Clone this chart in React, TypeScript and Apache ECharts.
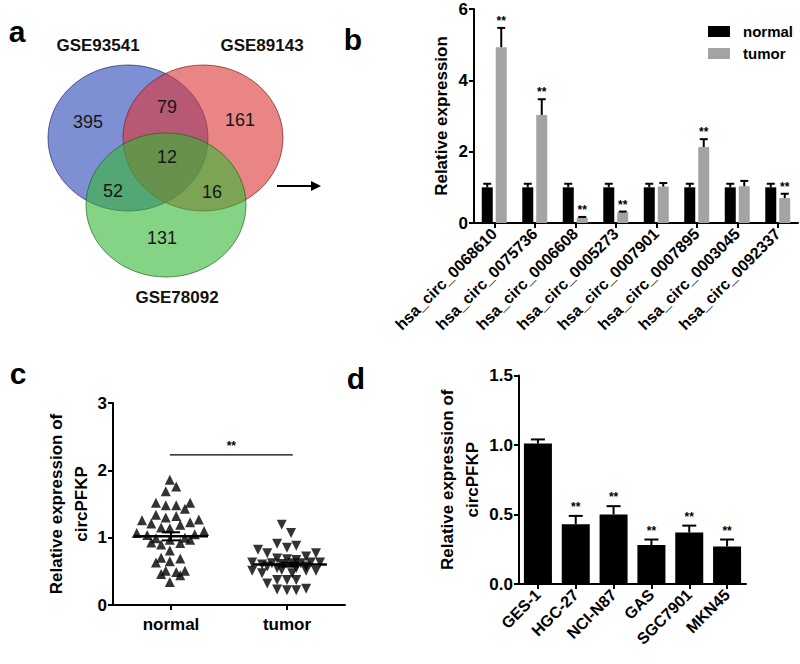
import React, { useEffect, useRef } from "react";
import * as echarts from "echarts";

const FONT = "'Liberation Sans', Arial, Helvetica, sans-serif";

// ---------- Panel a (Venn) ----------
const vennSets = ["GSE93541", "GSE89143", "GSE78092"];
// regions: A only, B only, C only, A∩B, A∩C, B∩C, A∩B∩C
const vennCounts = [395, 161, 131, 79, 52, 16, 12];

// ---------- Panel b ----------
const bCategories = [
  "hsa_circ_0068610",
  "hsa_circ_0075736",
  "hsa_circ_0006608",
  "hsa_circ_0005273",
  "hsa_circ_0007901",
  "hsa_circ_0007895",
  "hsa_circ_0003045",
  "hsa_circ_0092337",
];
const bNormal = [1, 1, 1, 1, 1, 1, 1, 1];
const bNormalUpper = [1.1, 1.1, 1.1, 1.1, 1.1, 1.1, 1.1, 1.1];
const bTumor = [4.93, 3.03, 0.15, 0.3, 1.02, 2.13, 1.03, 0.7];
const bTumorUpper = [5.47, 3.47, 0.17, 0.32, 1.12, 2.35, 1.18, 0.82];
const bTumorSig = ["**", "**", "**", "**", "", "**", "", "**"];
const bYTicks = [0, 2, 4, 6];

// ---------- Panel c ----------
const cCategories = ["normal", "tumor"];
// [position on hidden jitter axis (normal centre 1, tumor centre 3), value]
const cNormalPoints = [
  [0.98, 1.86], [0.91, 1.69], [1.09, 1.76], [0.74, 1.52], [0.91, 1.48], [1.09, 1.48],
  [1.24, 1.43], [1.33, 1.52], [0.74, 1.34], [0.91, 1.3], [1.09, 1.32], [0.5, 1.26],
  [0.66, 1.21], [0.83, 1.15], [0.98, 1.14], [1.16, 1.19], [1.33, 1.23], [1.48, 1.27],
  [0.41, 1.07], [0.59, 1.04], [1.57, 1.1], [1.41, 1.05], [0.66, 0.93], [0.83, 0.9],
  [0.98, 0.97], [1.16, 0.92], [1.33, 0.97], [0.74, 0.99], [1.24, 1.0], [0.98, 0.81],
  [0.83, 0.7], [1.16, 0.69], [0.74, 0.63], [0.98, 0.65], [0.83, 0.46], [0.91, 0.51],
  [1.09, 0.49], [1.24, 0.51], [1.16, 0.44], [0.98, 0.34],
];
const cTumorPoints = [
  [2.91, 1.19], [3.07, 1.07], [2.5, 0.82], [2.66, 0.77], [2.83, 0.91], [3.0, 0.85],
  [3.16, 0.88], [3.33, 0.72], [3.5, 0.77], [2.83, 0.69], [3.0, 0.68], [3.16, 0.67],
  [2.4, 0.63], [2.57, 0.6], [2.74, 0.62], [2.91, 0.61], [3.09, 0.62], [3.24, 0.62],
  [3.41, 0.63], [3.57, 0.63], [2.4, 0.51], [2.57, 0.47], [2.91, 0.52], [3.09, 0.47],
  [3.33, 0.51], [3.5, 0.51], [2.66, 0.32], [2.83, 0.37], [3.0, 0.37], [3.16, 0.37],
  [2.83, 0.23], [3.0, 0.22], [3.16, 0.22], [3.33, 0.24], [2.66, 0.57], [3.33, 0.57],
  [2.83, 0.55], [3.16, 0.55],
];
const cMeans = [1.02, 0.6];
const cSem = [0.06, 0.03];
const cMeanPos = [1.0, 3.05];
// significance bracket: [from, to, height]
const cSigLine = [0.98, 3.1, 2.23];
const cSigText = "**";
const cYTicks = [0, 1, 2, 3];

// ---------- Panel d ----------
const dCategories = ["GES-1", "HGC-27", "NCI-N87", "GAS", "SGC7901", "MKN45"];
const dValues = [1.01, 0.43, 0.5, 0.28, 0.37, 0.27];
const dUpper = [1.04, 0.49, 0.56, 0.32, 0.42, 0.32];
const dSig = ["", "**", "**", "**", "**", "**"];
const dYTicks = [0, 0.5, 1.0, 1.5];

function errorBars(offset: number, capHalf: number, sig: string[], starGap: number) {
  return (params: any, api: any) => {
    const i = api.value(0);
    const m = api.value(1);
    const t = api.value(2);
    const p0 = api.coord([i, m]);
    const p1 = api.coord([i, t]);
    const x = p0[0] + offset;
    const children: any[] = [
      {
        type: "line",
        shape: { x1: x, y1: p0[1], x2: x, y2: p1[1] },
        style: { stroke: "#000", lineWidth: 2 },
      },
      {
        type: "line",
        shape: { x1: x - capHalf, y1: p1[1], x2: x + capHalf, y2: p1[1] },
        style: { stroke: "#000", lineWidth: 2 },
      },
    ];
    const s = sig[params.dataIndex];
    if (s) {
      children.push({
        type: "text",
        x: x,
        y: p1[1] - starGap,
        style: {
          text: s,
          align: "center",
          verticalAlign: "bottom",
          font: `bold 12px ${FONT}`,
          fill: "#000",
        },
      });
    }
    return { type: "group", children };
  };
}

const axisLineStyle = { show: true, lineStyle: { color: "#000", width: 2 } };
const axisTickStyle = { show: true, length: 5, lineStyle: { color: "#000", width: 2 } };

export default function App() {
  const ref = useRef<HTMLDivElement>(null);

  useEffect(() => {
    if (!ref.current) return;
    const chart = echarts.init(ref.current, null, { renderer: "svg" });

    // Venn layout
    const ellipses = [
      { cx: 128, cy: 138, rx: 80, ry: 73, fill: "rgba(42,68,183,0.6)", stroke: "rgba(30,40,110,0.7)" },
      { cx: 203, cy: 138, rx: 80, ry: 73, fill: "rgba(220,52,52,0.6)", stroke: "rgba(120,30,30,0.7)" },
      { cx: 166, cy: 205, rx: 80, ry: 72, fill: "rgba(52,183,52,0.6)", stroke: "rgba(30,100,30,0.7)" },
    ];
    const setLabelPos = [
      [98, 45],
      [262, 45],
      [177, 297],
    ];
    const countPos = [
      [88, 122],
      [240, 120],
      [162, 238],
      [167, 107],
      [113, 191],
      [212, 192],
      [167, 157],
    ];

    const graphics: any[] = [];
    ellipses.forEach((e) =>
      graphics.push({
        type: "ellipse",
        shape: { cx: e.cx, cy: e.cy, rx: e.rx, ry: e.ry },
        style: { fill: e.fill, stroke: e.stroke, lineWidth: 1 },
      })
    );
    vennSets.forEach((name, i) =>
      graphics.push({
        type: "text",
        x: setLabelPos[i][0],
        y: setLabelPos[i][1],
        style: {
          text: name,
          align: "center",
          verticalAlign: "middle",
          font: `bold 17px ${FONT}`,
          fill: "#111",
        },
      })
    );
    vennCounts.forEach((c, i) =>
      graphics.push({
        type: "text",
        x: countPos[i][0],
        y: countPos[i][1],
        style: {
          text: String(c),
          align: "center",
          verticalAlign: "middle",
          font: `18px ${FONT}`,
          fill: "#161616",
        },
      })
    );
    // arrow
    graphics.push({
      type: "line",
      shape: { x1: 277, y1: 186, x2: 314, y2: 186 },
      style: { stroke: "#000", lineWidth: 2 },
    });
    graphics.push({
      type: "polygon",
      shape: { points: [[321, 186], [311, 181], [311, 191]] },
      style: { fill: "#000" },
    });
    // panel letters
    const letters = [
      ["a", 17, 46],
      ["b", 353, 54],
      ["c", 18, 388],
      ["d", 356, 393],
    ];
    letters.forEach(([t, x, y]) =>
      graphics.push({
        type: "text",
        x: x as number,
        y: y as number,
        style: {
          text: t as string,
          align: "center",
          verticalAlign: "bottom",
          font: `bold 30px ${FONT}`,
          fill: "#000",
        },
      })
    );

    const labelStyle = { color: "#000", fontWeight: "bold" as const, fontFamily: FONT, fontSize: 17 };
    const nameStyle = { color: "#000", fontWeight: "bold" as const, fontFamily: FONT, fontSize: 17, lineHeight: 25 };

    const option: any = {
      animation: false,
      backgroundColor: "#fff",
      textStyle: { fontFamily: FONT },
      graphic: graphics,
      legend: {
        data: ["normal", "tumor"],
        orient: "vertical",
        left: 703,
        top: 19,
        itemWidth: 22,
        itemHeight: 11,
        itemGap: 7,
        icon: "rect",
        textStyle: { color: "#000", fontSize: 15, fontWeight: "bold", fontFamily: FONT, padding: [0, 0, 0, 8] },
      },
      grid: [
        { left: 474, top: 9, width: 324, height: 214 },
        { left: 113, top: 403, width: 232, height: 202 },
        { left: 519, top: 375.5, width: 227, height: 208.5 },
      ],
      xAxis: [
        {
          type: "category",
          gridIndex: 0,
          data: bCategories,
          axisLine: axisLineStyle,
          axisTick: { ...axisTickStyle, alignWithLabel: true },
          axisLabel: { ...labelStyle, fontSize: 16, rotate: 45, interval: 0, margin: 8 },
        },
        {
          type: "category",
          gridIndex: 1,
          data: cCategories,
          axisLine: axisLineStyle,
          axisTick: { ...axisTickStyle, alignWithLabel: true },
          axisLabel: { ...labelStyle, margin: 11 },
        },
        {
          type: "value",
          gridIndex: 1,
          min: 0,
          max: 4,
          show: false,
        },
        {
          type: "category",
          gridIndex: 2,
          data: dCategories,
          axisLine: axisLineStyle,
          axisTick: { ...axisTickStyle, alignWithLabel: true },
          axisLabel: { ...labelStyle, fontSize: 16, rotate: 45, interval: 0, margin: 8 },
        },
      ],
      yAxis: [
        {
          type: "value",
          gridIndex: 0,
          min: bYTicks[0],
          max: bYTicks[bYTicks.length - 1],
          interval: 2,
          name: "Relative expression",
          nameLocation: "middle",
          nameGap: 20,
          nameTextStyle: nameStyle,
          axisLine: axisLineStyle,
          axisTick: axisTickStyle,
          splitLine: { show: false },
          axisLabel: { ...labelStyle, margin: 6 },
        },
        {
          type: "value",
          gridIndex: 1,
          min: cYTicks[0],
          max: cYTicks[cYTicks.length - 1],
          interval: 1,
          name: "Relative expression of\ncircPFKP",
          nameLocation: "middle",
          nameGap: 19,
          nameTextStyle: nameStyle,
          axisLine: axisLineStyle,
          axisTick: axisTickStyle,
          splitLine: { show: false },
          axisLabel: { ...labelStyle, margin: 6 },
        },
        {
          type: "value",
          gridIndex: 2,
          min: dYTicks[0],
          max: dYTicks[dYTicks.length - 1],
          interval: 0.5,
          name: "Relative expression of\ncircPFKP",
          nameLocation: "middle",
          nameGap: 24,
          nameTextStyle: nameStyle,
          axisLine: axisLineStyle,
          axisTick: axisTickStyle,
          splitLine: { show: false },
          axisLabel: { ...labelStyle, margin: 6, formatter: (v: number) => v.toFixed(1) },
        },
      ],
      series: [
        {
          name: "normal",
          type: "bar",
          xAxisIndex: 0,
          yAxisIndex: 0,
          data: bNormal,
          barWidth: 11,
          barGap: "27%",
          itemStyle: { color: "#000" },
        },
        {
          name: "tumor",
          type: "bar",
          xAxisIndex: 0,
          yAxisIndex: 0,
          data: bTumor,
          barWidth: 11,
          barGap: "27%",
          itemStyle: { color: "#a3a3a3" },
        },
        {
          name: "normal-err",
          type: "custom",
          xAxisIndex: 0,
          yAxisIndex: 0,
          data: bNormal.map((v, i) => [i, v, bNormalUpper[i]]),
          renderItem: errorBars(-7, 4, bNormal.map(() => ""), 2),
          z: 5,
        },
        {
          name: "tumor-err",
          type: "custom",
          xAxisIndex: 0,
          yAxisIndex: 0,
          data: bTumor.map((v, i) => [i, v, bTumorUpper[i]]),
          renderItem: errorBars(7, 4, bTumorSig, 1),
          z: 5,
        },
        {
          name: "normal-points",
          type: "scatter",
          xAxisIndex: 2,
          yAxisIndex: 1,
          data: cNormalPoints,
          symbol: "triangle",
          symbolSize: 10,
          itemStyle: { color: "#000" },
        },
        {
          name: "tumor-points",
          type: "scatter",
          xAxisIndex: 2,
          yAxisIndex: 1,
          data: cTumorPoints,
          symbol: "triangle",
          symbolRotate: 180,
          symbolSize: 10,
          itemStyle: { color: "#000" },
        },
        {
          name: "mean-sem",
          type: "custom",
          xAxisIndex: 2,
          yAxisIndex: 1,
          data: cMeans.map((m, i) => [cMeanPos[i], m, cSem[i]]),
          z: 5,
          renderItem: (params: any, api: any) => {
            const x = api.value(0);
            const m = api.value(1);
            const s = api.value(2);
            const pm = api.coord([x, m]);
            const pt = api.coord([x, m + s]);
            const pb = api.coord([x, m - s]);
            const st = { stroke: "#000", lineWidth: 2 };
            return {
              type: "group",
              children: [
                { type: "line", shape: { x1: pm[0] - 37, y1: pm[1], x2: pm[0] + 37, y2: pm[1] }, style: { stroke: "#000", lineWidth: 2.5 } },
                { type: "line", shape: { x1: pm[0], y1: pt[1], x2: pm[0], y2: pb[1] }, style: st },
                { type: "line", shape: { x1: pm[0] - 9, y1: pt[1], x2: pm[0] + 9, y2: pt[1] }, style: st },
                { type: "line", shape: { x1: pm[0] - 9, y1: pb[1], x2: pm[0] + 9, y2: pb[1] }, style: st },
              ],
            };
          },
        },
        {
          name: "sig",
          type: "custom",
          xAxisIndex: 2,
          yAxisIndex: 1,
          data: [cSigLine],
          renderItem: (params: any, api: any) => {
            const p1 = api.coord([api.value(0), api.value(2)]);
            const p2 = api.coord([api.value(1), api.value(2)]);
            return {
              type: "group",
              children: [
                { type: "line", shape: { x1: p1[0], y1: p1[1], x2: p2[0], y2: p2[1] }, style: { stroke: "#000", lineWidth: 1.2 } },
                {
                  type: "text",
                  x: (p1[0] + p2[0]) / 2,
                  y: p1[1] - 3,
                  style: { text: cSigText, align: "center", verticalAlign: "bottom", font: `bold 12px ${FONT}`, fill: "#000" },
                },
              ],
            };
          },
        },
        {
          name: "cell",
          type: "bar",
          xAxisIndex: 3,
          yAxisIndex: 2,
          data: dValues,
          barWidth: 28,
          itemStyle: { color: "#000" },
        },
        {
          name: "cell-err",
          type: "custom",
          xAxisIndex: 3,
          yAxisIndex: 2,
          data: dValues.map((v, i) => [i, v, dUpper[i]]),
          renderItem: errorBars(0, 7, dSig, 3),
          z: 5,
        },
      ],
    };

    chart.setOption(option);
    return () => chart.dispose();
  }, []);

  return (
    <div
      ref={ref}
      style={{ position: "absolute", left: 0, top: 0, width: 800, height: 664, background: "#fff" }}
    />
  );
}
